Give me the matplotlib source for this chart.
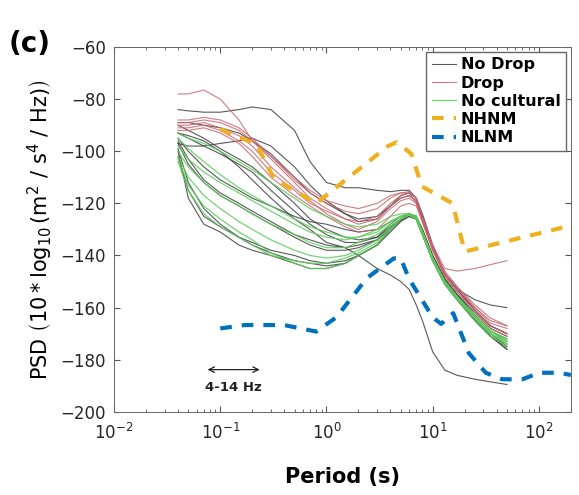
import numpy as np
import matplotlib
matplotlib.use('Agg')
import matplotlib.pyplot as plt

plt.rcParams['font.family'] = 'DejaVu Sans'
plt.rcParams['mathtext.default'] = 'regular'

# periodes communes des courbes mesurees (s)
period = [0.04, 0.05, 0.07, 0.1, 0.15, 0.2, 0.3, 0.5, 0.7, 1, 1.5, 2, 3, 4,
          5, 6, 7, 8, 10, 13, 17, 25, 35, 50]

# No Drop (noir)
nodrop = [
    [-84, -84.5, -85, -85, -84, -83, -84, -92, -104, -112, -114, -114, -115, -115.5, -115, -115, -118, -124, -136, -147, -153, -157, -159, -160],
    [-97, -98, -98, -97, -96, -95, -98, -106, -113, -119, -124, -127, -126, -121, -118, -117, -119, -126, -137, -147, -153, -161, -167, -170],
    [-93, -94, -96, -100, -106, -111, -118, -126, -130, -135, -137, -140, -145, -147.5, -150, -153, -159, -165, -177, -184, -186, -187.5, -188.5, -189.5],
    [-90, -92, -95, -99, -103, -106, -112, -120, -126, -130, -133, -134, -133, -129, -126, -124.5, -125, -130, -140, -149, -155, -163, -169, -173],
    [-95, -100, -106, -111, -115, -118, -121, -125, -127, -128, -130, -131, -130, -127, -125, -124, -125, -131, -141, -150, -156, -164, -170, -174],
    [-97, -105, -112, -117, -121, -124, -128, -133, -136, -138, -138, -137, -134, -130, -126, -124.5, -125.5, -131, -141, -150, -156, -164, -170, -175],
    [-99, -112, -122, -128, -133, -135, -138, -140, -142, -143, -142, -140, -136, -131, -127, -125, -126, -132, -142, -151, -157, -165, -171, -176],
    [-100, -118, -128, -131, -136, -138, -140, -143, -145, -145, -143, -140, -136, -130, -126.5, -125, -126, -132, -142, -151, -157, -165, -171, -175],
    [-96, -103, -111, -116, -120, -123, -127, -132, -134, -136, -137, -136, -134, -129, -126, -124, -125, -131, -141, -150, -156, -163, -169, -172],
    [-93, -95, -98, -101, -105, -108, -115, -123, -128, -132, -135, -135, -133, -128, -125, -124, -125, -130, -140, -149, -155, -162, -168, -171],
    [-102, -115, -125, -129, -133, -136, -139, -142, -143, -144, -143, -140, -136, -130, -126, -124.5, -126, -132, -142, -151, -157, -165, -171, -176],
    [-89, -89, -90, -91, -93, -96, -101, -110, -116, -120, -124, -126, -125, -121, -117, -116, -118, -125, -137, -147, -153, -161, -167, -170],
]

# Drop (rouge)
drop = [
    [-78, -78, -76.5, -80, -88, -96, -102, -110, -115, -119, -121, -122, -120, -117, -116, -116, -120, -127, -138, -146, -152, -159, -164, -167],
    [-89, -89, -88, -89, -92, -96, -103, -112, -118, -122, -126, -128, -126, -121, -118, -117, -119, -126, -137, -147, -153, -160, -166, -168],
    [-90, -90, -89, -91, -94, -98, -106, -114, -119, -124, -128, -130, -127, -122, -119, -118, -120, -127, -138, -148, -154, -161, -167, -170],
    [-91, -91, -90, -92, -96, -100, -108, -115, -120, -123, -126, -127, -125, -120, -117, -116, -118, -125, -137, -147, -152, -160, -165, -167],
    [-92, -92, -91, -93, -97, -102, -110, -117, -121, -125, -129, -131, -130, -125, -121, -120, -121, -127, -138, -148, -154, -162, -168, -171],
    [-88, -88, -87, -88, -91, -95, -102, -111, -116, -120, -123, -124, -122, -118, -116, -115.5, -118, -125, -136, -145, -146, -145, -143.5, -142],
]

# No cultural (vert)
nocult = [
    [-95, -99, -104, -109, -114, -117, -121, -126, -129, -131, -133, -133, -131, -127, -125, -124, -125, -131, -141, -150, -156, -164, -170, -173],
    [-100, -106, -112, -117, -121, -124, -128, -132, -135, -137, -137, -135, -132, -128, -125, -124, -125, -131, -141, -150, -156, -163, -169, -172],
    [-102, -110, -117, -122, -127, -130, -134, -138, -140, -141, -140, -138, -134, -129, -126, -124.5, -125.5, -131, -141, -150, -156, -164, -170, -174],
    [-103, -113, -121, -126, -131, -134, -139, -143, -145, -145, -143, -140, -136, -130, -126, -124.5, -126, -132, -142, -151, -157, -165, -171, -175],
    [-98, -103, -108, -112, -116, -119, -123, -128, -131, -133, -134, -133, -130, -127, -125, -124, -125, -131, -141, -150, -156, -163, -169, -173],
    [-104, -115, -124, -129, -133, -136, -140, -142, -143, -143, -141, -139, -135, -130, -126, -124.5, -126, -132, -142, -151, -157, -164, -170, -174],
    [-93, -95, -97, -100, -104, -107, -112, -118, -122, -125, -128, -129, -128, -125, -124, -124, -125, -131, -141, -150, -156, -163, -169, -172],
]

# modeles de Peterson (points de rupture)
nhnm_p = [0.10, 0.22, 0.32, 0.80, 3.80, 4.60, 6.30, 7.90, 15.40, 20.0, 200.0]
nhnm_db = [-91.5, -97.4, -110.5, -120.0, -98.0, -96.5, -101.0, -113.5, -120.0, -138.5, -128.5]
nlnm_p = [0.10, 0.17, 0.40, 0.80, 1.24, 2.40, 4.30, 5.00, 6.00, 10.0, 12.0,
          15.6, 21.9, 31.6, 45.0, 70.0, 101.0, 154.0, 200.0]
nlnm_db = [-168.0, -166.7, -166.7, -169.2, -163.7, -148.65, -141.1, -141.1, -149.0,
           -163.75, -166.25, -162.13, -177.5, -185.0, -187.5, -187.5, -185.0, -185.0, -185.85]

fig = plt.figure(figsize=(5.79, 4.95), dpi=100)
ax = fig.add_axes([0.197, 0.168, 0.789, 0.737])

for i, c in enumerate(nodrop):
    ax.plot(period, c, color='#3c3c3c', lw=0.8, alpha=0.85,
            label='No Drop' if i == 0 else None)
for i, c in enumerate(drop):
    ax.plot(period, c, color='#c8646e', lw=0.8, alpha=0.85,
            label='Drop' if i == 0 else None)
for i, c in enumerate(nocult):
    ax.plot(period, c, color='#5acd5a', lw=0.9, alpha=0.85,
            label='No cultural' if i == 0 else None)

ax.plot(nhnm_p, nhnm_db, color='#EDB120', lw=3, ls=(0, (2.8, 2.4)), label='NHNM')
ax.plot(nlnm_p, nlnm_db, color='#0072BD', lw=3, ls=(0, (2.8, 2.4)), label='NLNM')

# bande 4-14 Hz
ax.annotate('', xy=(1 / 14, -183.8), xytext=(1 / 4, -183.8),
            arrowprops=dict(arrowstyle='<->', color='#222222', lw=0.9))
ax.text(0.134, -190.5, '4-14 Hz', ha='center', va='center',
        fontsize=9.5, fontweight='bold', color='#222222')

ax.set_xscale('log')
ax.set_xlim(0.01, 200)
ax.set_ylim(-200, -60)
ax.set_yticks(np.arange(-200, -59, 20))
ax.tick_params(which='both', direction='in', top=True, right=True,
               colors='#555555', labelcolor='#262626', labelsize=12)
ax.tick_params(which='major', length=4)
ax.tick_params(which='minor', length=2)
ax.tick_params(axis='x', which='major', pad=8)
ax.tick_params(axis='y', which='major', pad=6)
for s in ax.spines.values():
    s.set_color('#666666')
    s.set_linewidth(0.7)

ax.set_xlabel('Period (s)', fontsize=15, fontweight='bold', labelpad=17)
ax.set_ylabel(r'PSD $\left(10*\log_{10}(m^2\ /\ s^4\ /\ Hz)\right)$', fontsize=15, labelpad=4)

leg = ax.legend(loc='upper right', fontsize=11.5, handlelength=1.5,
                handletextpad=0.3, borderpad=0.35, labelspacing=0.2,
                fancybox=False, framealpha=1, edgecolor='#666666',
                borderaxespad=0.3)
for t in leg.get_texts():
    t.set_fontweight('bold')

fig.text(0.015, 0.895, '(c)', fontsize=20, fontweight='bold')

fig.savefig('out.png', dpi=100)
